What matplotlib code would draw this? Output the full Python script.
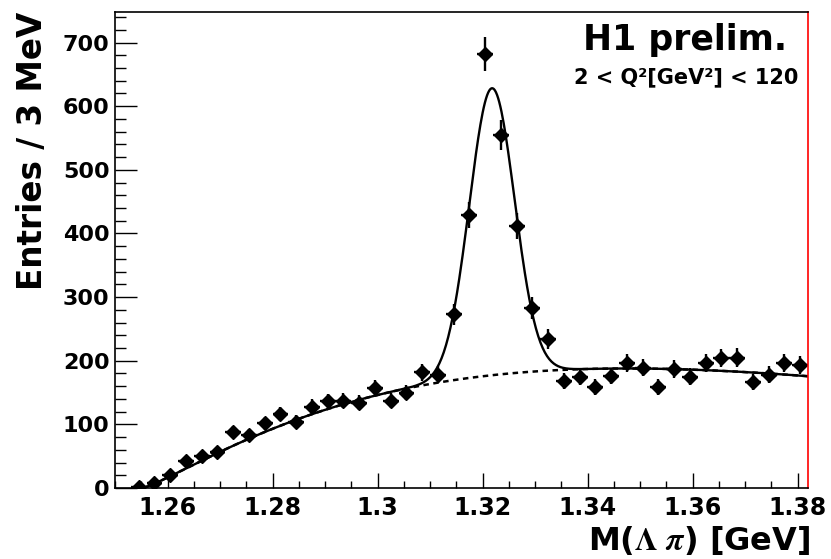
import numpy as np
import matplotlib
matplotlib.use("Agg")
import matplotlib.pyplot as plt
from matplotlib.ticker import MultipleLocator

plt.rcParams['font.family'] = ['DejaVu Sans']
plt.rcParams['font.weight'] = 'bold'

# bin centres (3 MeV bins) and entries
mass = [1.2545, 1.2575, 1.2605, 1.2635, 1.2665, 1.2695, 1.2725, 1.2755,
        1.2785, 1.2815, 1.2845, 1.2875, 1.2905, 1.2935, 1.2965, 1.2995,
        1.3025, 1.3055, 1.3085, 1.3115, 1.3145, 1.3175, 1.3205, 1.3235,
        1.3265, 1.3295, 1.3325, 1.3355, 1.3385, 1.3415, 1.3445, 1.3475,
        1.3505, 1.3535, 1.3565, 1.3595, 1.3625, 1.3655, 1.3685, 1.3715,
        1.3745, 1.3775, 1.3805]
entries = [1, 8, 20, 43, 51, 56, 88, 83,
           102, 116, 104, 128, 136, 137, 134, 157,
           137, 150, 182, 178, 273, 429, 682, 554,
           412, 283, 234, 168, 175, 159, 176, 197,
           189, 159, 187, 175, 197, 204, 205, 167,
           178, 196, 193]

# fit parameters: gaussian signal + threshold background
thr = 1.2553
bg_norm = 10880.0
bg_pow = 1.2
bg_slope = 13.0
sig_amp = 451.0
sig_mean = 1.3218
sig_width = 0.0043


def background(x):
    d = np.clip(x - thr, 0, None)
    return bg_norm * d**bg_pow * np.exp(-bg_slope * d)


def total(x):
    return background(x) + sig_amp * np.exp(-0.5 * ((x - sig_mean) / sig_width)**2)


fig = plt.figure(figsize=(8.31, 5.59), dpi=100)
ax = fig.add_axes([115/831, 71/559, 693/831, 476/559])

xf = np.linspace(thr, 1.382, 600)
ax.plot(xf, background(xf), color="black", lw=1.8, ls=(0, (2.2, 1.8)))
ax.plot(xf, total(xf), color="black", lw=1.7)

ax.errorbar(mass, entries, yerr=np.sqrt(entries), xerr=0.0015, fmt='D',
            color="black", ms=7, elinewidth=1.7, capsize=0)

ax.set_xlim(1.25, 1.382)
ax.set_ylim(0, 748)
ax.xaxis.set_major_locator(MultipleLocator(0.02))
ax.xaxis.set_minor_locator(MultipleLocator(0.005))
ax.yaxis.set_major_locator(MultipleLocator(100))
ax.yaxis.set_minor_locator(MultipleLocator(20))
ax.set_xticks([1.26, 1.28, 1.30, 1.32, 1.34, 1.36, 1.38])
ax.set_xticklabels(["1.26", "1.28", "1.3", "1.32", "1.34", "1.36", "1.38"])

ax.tick_params(axis='y', which='major', direction='in', length=16, width=1,
               labelsize=16, pad=4)
ax.tick_params(axis='y', which='minor', direction='in', length=8, width=1)
ax.tick_params(axis='x', which='major', direction='in', length=11, width=1,
               labelsize=17, pad=6)
ax.tick_params(axis='x', which='minor', direction='in', length=5, width=1)

for s in ax.spines.values():
    s.set_linewidth(1.2)
ax.spines['right'].set_color("red")

fig.text(33/831, 1 - 12/559, "Entries / 3 MeV", rotation=90, ha='center',
         va='top', fontsize=23.5, fontweight='bold')
fig.text(810/831, 9/559, r"M($\Lambda\ \pi$) [GeV]", ha='right', va='baseline',
         fontsize=23, fontweight='bold', math_fontfamily='stix')

ax.text(787/831, 1 - 50/559, "H1 prelim.", transform=fig.transFigure,
        ha='right', va='baseline', fontsize=25, fontweight='bold')
ax.text(798/831, 1 - 83/559, "2 < Q²[GeV²] < 120", transform=fig.transFigure,
        ha='right', va='baseline', fontsize=15, fontweight='bold')

plt.savefig("out.png", dpi=100)
